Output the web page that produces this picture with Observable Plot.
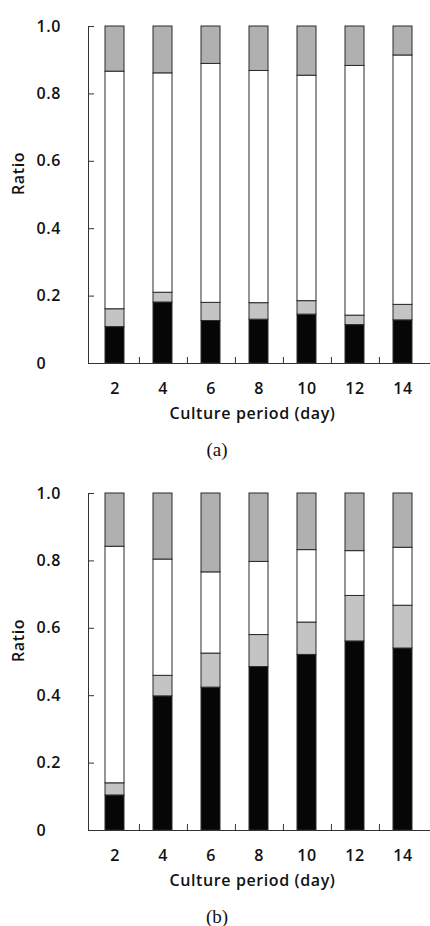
<!DOCTYPE html>
<html><head><meta charset="utf-8">
<script src="https://cdn.jsdelivr.net/npm/d3@7"></script>
<script src="https://cdn.jsdelivr.net/npm/@observablehq/plot@0.6"></script>
<style>
body{margin:0;background:#fff;}
.cap{position:relative;height:37px;font-family:"Liberation Serif","Times New Roman",serif;font-size:19px;line-height:1;color:#111;}
.cap span{position:absolute;left:217px;top:19px;transform:translate(-50%,-50%);}
.cap.last{height:29px;}
svg{display:block;}
</style></head><body><div id="root"></div>
<script>
const days = [2, 4, 6, 8, 10, 12, 14];
const seriesNames = ["black", "lightGray", "white", "gray"];
const seriesColors = ["#060606", "#c4c4c4", "#ffffff", "#b0b0b0"];
const yTicks = [0, 0.2, 0.4, 0.6, 0.8, 1.0];
const xLabel = "Culture period (day)";
const yLabel = "Ratio";
const captions = ["(a)", "(b)"];

// Panel (a) segment ratios, bottom to top
const aBlack     = [0.108, 0.181, 0.126, 0.130, 0.145, 0.114, 0.128];
const aLightGray = [0.053, 0.029, 0.054, 0.049, 0.040, 0.028, 0.046];
const aWhite     = [0.705, 0.651, 0.709, 0.689, 0.669, 0.741, 0.740];
const aGray      = [0.134, 0.139, 0.111, 0.132, 0.146, 0.117, 0.086];

// Panel (b) segment ratios, bottom to top
const bBlack     = [0.104, 0.398, 0.424, 0.485, 0.521, 0.561, 0.540];
const bLightGray = [0.036, 0.061, 0.101, 0.095, 0.096, 0.135, 0.127];
const bWhite     = [0.702, 0.345, 0.241, 0.217, 0.215, 0.133, 0.172];
const bGray      = [0.158, 0.196, 0.234, 0.203, 0.168, 0.171, 0.161];

function panel(vals, caption, last) {
  const data = [];
  days.forEach((d, i) => seriesNames.forEach((s, j) => data.push({day: d, series: s, color: seriesColors[j], value: vals[j][i]})));
  const W = 430, ML = 88, MR = 0, H = 430, MT = 26, MB = 67;
  const step = (W - ML - MR) / days.length;
  const plot = Plot.plot({
    width: W, height: H, marginLeft: ML, marginRight: MR, marginTop: MT, marginBottom: MB,
    style: {fontFamily: "'Open Sans', sans-serif", fontSize: "16px", fontWeight: 600, letterSpacing: "0.6px", color: "#111", background: "#fff"},
    x: {type: "band", domain: days, paddingInner: 0.6, paddingOuter: 0.3, align: 0.5},
    y: {domain: [0, 1]},
    color: {type: "identity"},
    marks: [
      Plot.barY(data, {x: "day", y: "value", fill: "color", stroke: "#2a2a2a", strokeWidth: 1, order: seriesNames, z: "series"}),
      Plot.frame({anchor: "left", stroke: "#333"}),
      Plot.frame({anchor: "bottom", stroke: "#333"}),
      Plot.axisY({ticks: yTicks, tickSize: -6, text: null, stroke: "#333", label: null}),
      Plot.axisY({ticks: yTicks, tickSize: 0, tickPadding: 52, textAnchor: "start", tickFormat: d => d === 0 ? "0" : d.toFixed(1), label: null}),
      Plot.axisX({ticks: days.slice(0, -1), tickSize: -6, text: null, dx: step / 2, stroke: "#333", label: null}),
      Plot.axisX({tickSize: 0, tickPadding: 19, label: null}),
      Plot.text([xLabel], {frameAnchor: "bottom", dy: 55, dx: -7}),
      Plot.text([yLabel], {frameAnchor: "left", rotate: -90, dx: -70})
    ]
  });
  const root = document.getElementById("root");
  root.appendChild(plot);
  const cap = document.createElement("div");
  cap.className = last ? "cap last" : "cap";
  const sp = document.createElement("span");
  sp.textContent = caption;
  cap.appendChild(sp);
  root.appendChild(cap);
}

panel([aBlack, aLightGray, aWhite, aGray], captions[0], false);
panel([bBlack, bLightGray, bWhite, bGray], captions[1], true);
</script>
</body></html>
